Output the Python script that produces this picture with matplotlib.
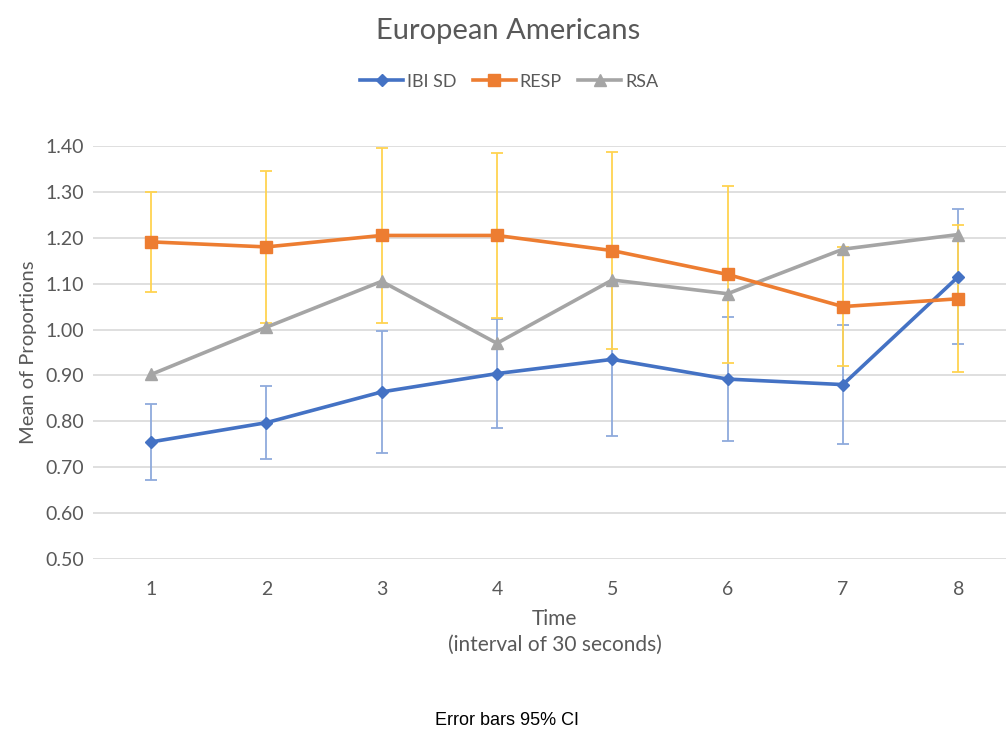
import numpy as np
import matplotlib
matplotlib.use("Agg")
import matplotlib.pyplot as plt

plt.rcParams['font.family'] = ['Lato', 'DejaVu Sans']

# データ
time = [1, 2, 3, 4, 5, 6, 7, 8]
ibi_sd = [0.755, 0.797, 0.864, 0.904, 0.935, 0.892, 0.880, 1.115]
ibi_err = [0.083, 0.080, 0.132, 0.118, 0.167, 0.136, 0.130, 0.147]
resp = [1.191, 1.180, 1.205, 1.205, 1.172, 1.120, 1.050, 1.067]
resp_err = [0.109, 0.165, 0.190, 0.180, 0.214, 0.193, 0.130, 0.160]
rsa = [0.902, 1.005, 1.105, 0.970, 1.108, 1.078, 1.175, 1.207]
y_ticks = [0.5, 0.6, 0.7, 0.8, 0.9, 1.0, 1.1, 1.2, 1.3, 1.4]

txt = '#595959'

fig = plt.figure(figsize=(10.06, 7.35), dpi=100, facecolor='white')
ax = fig.add_axes([0.0928, 0.2395, 0.917, 0.5619])

# error bars (behind the lines)
ax.errorbar(time, ibi_sd, yerr=ibi_err, fmt='none', ecolor='#8faadc',
            elinewidth=1.3, capsize=4, capthick=1.3, zorder=2)
ax.errorbar(time, resp, yerr=resp_err, fmt='none', ecolor='#ffd350',
            elinewidth=1.3, capsize=4, capthick=1.3, zorder=2)

ax.plot(time, ibi_sd, color='#4472c4', lw=2.6, marker='D', ms=6.5, label='IBI SD', zorder=4)
ax.plot(time, resp, color='#ed7d31', lw=2.6, marker='s', ms=9, label='RESP', zorder=4)
ax.plot(time, rsa, color='#a5a5a5', lw=2.6, marker='^', ms=9, label='RSA', zorder=3)

ax.set_xlim(0.5, 8.5)
ax.set_ylim(0.5, 1.4)
ax.set_xticks(time)
ax.set_yticks(y_ticks)
ax.set_yticklabels([f'{v:.2f}' for v in y_ticks])
ax.grid(axis='y', color='#d9d9d9', lw=1.2)
ax.set_axisbelow(True)
for s in ax.spines.values():
    s.set_visible(False)
ax.tick_params(length=0, labelsize=14, colors=txt)
ax.tick_params(axis='x', pad=16)
ax.tick_params(axis='y', pad=7)

ax.set_ylabel('Mean of Proportions', fontsize=14.5, color=txt, labelpad=6)
ax.set_xlabel('Time\n(interval of 30 seconds)', fontsize=15, color=txt,
              labelpad=8, linespacing=1.35)

fig.text(0.505, 0.958, 'European Americans', ha='center', va='center',
         fontsize=21, color=txt)
fig.legend(loc='center', bbox_to_anchor=(0.506, 0.889), ncol=3, frameon=False,
           fontsize=13, handlelength=2.4, columnspacing=0.9, handletextpad=0.2,
           labelcolor=txt)
fig.text(0.504, 0.02, 'Error bars 95% CI', ha='center', va='center',
         fontsize=13, color='black', family=['Liberation Sans', 'DejaVu Sans'])

plt.savefig('out.png', dpi=100)
